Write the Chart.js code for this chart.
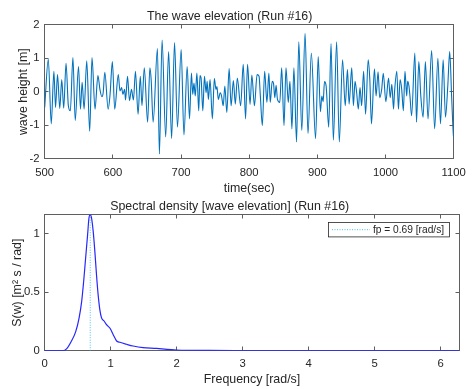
<!DOCTYPE html>
<html>
<head>
<meta charset="utf-8">
<script src="https://cdn.jsdelivr.net/npm/chart.js@4.4.1/dist/chart.umd.min.js"></script>
<style>
  html, body { margin: 0; padding: 0; background: #fff; }
  #wrap { position: relative; width: 473px; height: 389px; overflow: hidden; }
  canvas { position: absolute; left: 0; }
  #waveCanvas { top: 0; }
  #specCanvas { top: 190px; }
</style>
</head>
<body>
<div id="wrap">
  <canvas id="waveCanvas" width="473" height="205"></canvas>
  <canvas id="specCanvas" width="473" height="199"></canvas>
</div>
<script>
// ---- Wave elevation record, Run #16 (time in s, elevation in m) ----
const timeSec = [
  500.0, 505.3, 509.6, 513.5, 515.9, 518.8, 522.1, 525.0, 527.9, 531.3, 534.7, 537.6, 541.4, 544.8,
  549.6, 552.5, 554.9, 557.8, 561.7, 566.0, 569.4, 573.8, 578.1, 581.0, 583.9, 585.8, 588.2, 593.1,
  595.9, 599.3, 602.7, 608.0, 610.4, 612.8, 614.8, 617.2, 618.6, 621.5, 624.4, 627.3, 630.2, 633.1,
  637.0, 640.3, 642.7, 646.1, 651.0, 654.3, 656.2, 659.1, 665.4, 668.3, 672.2, 677.5, 681.8, 686.2,
  690.5, 694.8,
  700.2, 704.3, 709.0, 712.5, 715.3, 717.2, 719.0, 720.9, 723.3, 726.0, 727.8, 729.4, 732.0, 734.4,
  736.8, 738.3, 740.2, 742.6, 746.0, 748.9, 751.3, 752.7, 754.7, 757.5, 759.5, 761.9, 764.3, 767.2,
  770.6, 773.5, 776.8, 779.7, 782.6, 787.5, 791.3, 794.7, 797.6, 801.3,
  803.9, 807.7, 811.6, 814.5, 816.4, 819.3, 822.7, 826.0, 828.9, 830.9, 833.8, 835.7, 837.6, 839.5,
  841.5, 844.9, 847.7, 851.1, 854.0, 857.4, 859.8, 862.7, 865.6, 869.5, 872.8, 877.2, 882.0, 886.3,
  891.2, 897.4, 901.3,
  904.5, 906.6, 908.5, 910.5, 912.9, 916.7, 920.1, 923.5, 928.3, 932.2, 937.0, 940.9, 944.2, 946.6,
  950.5, 952.9, 955.3, 957.7, 960.1, 962.6, 965.0, 967.9, 970.8, 974.6, 977.0, 979.4, 983.8, 986.2,
  989.1, 991.5, 994.4, 996.8, 1000.5,
  1004.5, 1006.9, 1009.3, 1011.8, 1013.2, 1016.6, 1019.0, 1021.4, 1023.8, 1026.2, 1028.6, 1031.1,
  1032.5, 1034.4, 1035.9, 1038.3, 1043.1, 1045.5, 1048.9, 1051.8, 1055.2, 1058.5, 1062.4, 1067.7,
  1072.1, 1076.9, 1080.7, 1084.6, 1088.0, 1091.4, 1094.2, 1097.1, 1099.6, 1100.0
];
const elevation = [
  -0.47, 0.97, -0.96, 0.61, -0.47, 0.51, -0.50, 0.36, -0.49, 0.85, -0.42, -0.57, 1.02, -0.86,
  0.75, -0.52, 0.28, -0.52, 0.92, -1.18, 1.02, -0.52, 0.48, 0.07, -0.15, -0.03, 0.58, -0.52,
  -0.08, 0.90, -0.52, 0.51, 0.02, 0.12, -0.08, 0.07, -0.25, 0.46, -0.27, 0.07, -0.25, 0.61,
  -0.67, 0.46, -0.42, 0.71, -0.91, 0.71, 0.36, -0.91, 1.29, -1.86, 1.54, -1.35, 1.20, -1.40,
  1.47, -1.06,
  1.26, -1.29, 0.75, -0.81, 0.56, -0.08, 0.26, -0.13, 0.56, -0.57, 0.48, 0.41, -0.57, 0.46,
  -0.03, 0.31, -0.23, 0.36, -0.81, 0.39, 0.07, 0.15, -0.23, -0.03, -0.13, -0.42, 0.17, -0.62,
  0.69, -0.42, 0.33, -0.37, 0.41, -0.42, 0.82, -0.81, 0.82, -0.38,
  0.50, -0.42, 0.51, 0.46, -0.13, -1.01, 0.61, -0.32, 0.56, -0.32, 0.31, 0.25, -0.18, 0.19,
  -0.23, -0.32, 0.71, -1.01, 0.71, -0.32, 0.31, -1.11, 0.71, -1.50, 1.49, -1.16, 1.74, -1.25,
  1.15, -1.40, 1.05,
  -0.60, -0.13, -0.30, 0.30, 0.17, -1.06, 1.44, -1.45, 1.49, -1.50, 0.95, -0.42, 0.66, -0.37,
  0.71, -0.42, 0.31, -0.03, -0.52, 0.12, -0.42, 0.61, -0.67, 0.95, 0.36, -0.96, 0.68, -0.13,
  0.59, -0.18, 0.07, 0.55, -0.30,
  0.41, -0.18, 0.22, -0.52, -0.03, 0.61, -0.52, 0.36, 0.07, -0.57, 0.61, -0.13,
  0.31, 0.17, -0.13, -0.72, 1.15, -0.91, 0.90, -0.13, -0.76, 0.90, -0.81, 1.23,
  -1.11, 1.00, -0.96, 0.95, -0.76, 0.17, 1.20, -0.18, -1.30, -1.36
];
const timeTicks = [500, 600, 700, 800, 900, 1000, 1100];
const heightTicks = [-2, -1, 0, 1, 2];

// ---- Spectral density of the same record ----
const freqRad = [
  0, 0.28, 0.33, 0.40, 0.47, 0.52, 0.56, 0.59, 0.62, 0.65, 0.67, 0.69, 0.71, 0.735, 0.76, 0.785,
  0.81, 0.836, 0.86, 0.90, 0.94, 0.99, 1.04, 1.09, 1.14, 1.24, 1.34, 1.49, 1.70, 1.85, 2.0, 2.5,
  3.0, 4.0, 5.0, 6.2832
];
const sDensity = [
  0, 0, 0.015, 0.077, 0.163, 0.277, 0.42, 0.59, 0.79, 0.99, 1.13, 1.163, 1.134, 1.02, 0.849, 0.649,
  0.477, 0.349, 0.283, 0.254, 0.22, 0.192, 0.135, 0.083, 0.072, 0.055, 0.04, 0.026, 0.02, 0.011, 0.006, 0.002,
  0.001, 0, 0, 0
];
const freqTicks = [0, 1, 2, 3, 4, 5, 6];
const densityTicks = [0, 0.5, 1];
const peakFreq = 0.69;

const FONT = '"Liberation Sans", Arial, Helvetica, sans-serif';
const TEXT = '#262626';
const AXIS = '#5f5f5f';
Chart.defaults.font.family = FONT;
Chart.defaults.color = TEXT;

// Boxed axes with inward tick marks on all four sides
const boxedAxes = {
  id: 'boxedAxes',
  beforeDatasetsDraw(chart) {
    const { ctx, chartArea: a, scales } = chart;
    const c = v => Math.floor(v) + 0.5;
    const L = c(a.left), R = c(a.right), T = c(a.top), B = c(a.bottom);
    const len = 4;
    ctx.save();
    ctx.strokeStyle = AXIS;
    ctx.lineWidth = 1;
    ctx.strokeRect(L, T, R - L, B - T);
    ctx.beginPath();
    scales.x.ticks.forEach(t => {
      const x = c(scales.x.getPixelForValue(t.value));
      ctx.moveTo(x, B); ctx.lineTo(x, B - len);
      ctx.moveTo(x, T); ctx.lineTo(x, T + len);
    });
    scales.y.ticks.forEach(t => {
      const y = c(scales.y.getPixelForValue(t.value));
      ctx.moveTo(L, y); ctx.lineTo(L + len, y);
      ctx.moveTo(R, y); ctx.lineTo(R - len, y);
    });
    ctx.stroke();
    ctx.restore();
  }
};

// Boxed legend in the upper right corner of the plot area
const boxedLegend = {
  id: 'boxedLegend',
  afterDatasetsDraw(chart) {
    const ds = chart.data.datasets.find(d => d.inLegend);
    if (!ds) return;
    const { ctx, chartArea: a } = chart;
    const w = 121, h = 14.4;
    const x0 = Math.floor(a.right - 10 - w) + 0.5, y0 = Math.floor(a.top + 8.3) + 0.5;
    ctx.save();
    ctx.fillStyle = '#fff';
    ctx.fillRect(x0, y0, w, h);
    ctx.strokeStyle = TEXT;
    ctx.lineWidth = 0.8;
    ctx.strokeRect(x0, y0, w, h);
    ctx.beginPath();
    ctx.setLineDash(ds.borderDash);
    ctx.strokeStyle = ds.borderColor;
    ctx.lineWidth = ds.borderWidth;
    ctx.moveTo(x0 + 3.5, y0 + h / 2);
    ctx.lineTo(x0 + 41.5, y0 + h / 2);
    ctx.stroke();
    ctx.setLineDash([]);
    ctx.fillStyle = TEXT;
    ctx.font = '10.2px ' + FONT;
    ctx.textBaseline = 'middle';
    ctx.textAlign = 'left';
    ctx.fillText(ds.label, x0 + 44.5, y0 + h / 2 + 0.5);
    ctx.restore();
  }
};

const tickFont = { size: 11.3 };
const labelFont = { size: 12.4 };

function fixedTicks(values) {
  return function (scale) {
    scale.ticks = values.map(v => ({ value: v }));
  };
}

// ---- Top: wave elevation time series ----
new Chart(document.getElementById('waveCanvas'), {
  type: 'line',
  data: {
    datasets: [{
      data: timeSec.map((t, i) => ({ x: t, y: elevation[i] })),
      borderColor: '#0072BD',
      borderWidth: 1.1,
      pointRadius: 0,
      cubicInterpolationMode: 'monotone',
      fill: false
    }]
  },
  plugins: [boxedAxes],
  options: {
    responsive: false,
    animation: false,
    events: [],
    layout: { padding: { left: 0, right: 13.7, top: 0, bottom: 0 } },
    plugins: {
      legend: { display: false },
      tooltip: { enabled: false },
      title: {
        display: true,
        text: 'The wave elevation (Run #16)',
        font: { size: 12.4, weight: 'normal' },
        color: TEXT,
        padding: { top: 8.8, bottom: 1.0 }
      }
    },
    scales: {
      x: {
        type: 'linear',
        min: timeTicks[0],
        max: timeTicks[timeTicks.length - 1],
        afterBuildTicks: fixedTicks(timeTicks),
        afterFit: s => { s.height = 205 - 158.7; },
        grid: { display: false, drawTicks: false },
        border: { display: false },
        ticks: { font: tickFont, padding: 7.2, maxRotation: 0, autoSkip: false, callback: v => String(v) },
        title: { display: true, text: 'time(sec)', font: labelFont, padding: { top: 0, bottom: 9.0 } }
      },
      y: {
        type: 'linear',
        min: heightTicks[0],
        max: heightTicks[heightTicks.length - 1],
        afterBuildTicks: fixedTicks(heightTicks),
        afterFit: s => { s.width = 44.7; },
        grid: { display: false, drawTicks: false },
        border: { display: false },
        ticks: { font: tickFont, padding: 5.2, callback: v => String(v) },
        title: { display: true, text: 'wave height [m]', font: labelFont, padding: { top: 16.0, bottom: 0 } }
      }
    }
  }
});

// ---- Bottom: spectral density ----
const sMax = Math.max(...sDensity);
new Chart(document.getElementById('specCanvas'), {
  type: 'line',
  data: {
    datasets: [
      {
        data: freqRad.map((f, i) => ({ x: f, y: sDensity[i] })),
        borderColor: '#2626ff',
        borderWidth: 1.2,
        pointRadius: 0,
        cubicInterpolationMode: 'monotone',
        fill: false
      },
      {
        label: 'fp = ' + peakFreq.toFixed(2) + ' [rad/s]',
        inLegend: true,
        data: [{ x: peakFreq, y: 0 }, { x: peakFreq, y: sMax }],
        borderColor: '#4DBEEE',
        borderWidth: 1,
        borderDash: [1, 1.5],
        pointRadius: 0,
        fill: false
      }
    ]
  },
  plugins: [boxedAxes, boxedLegend],
  options: {
    responsive: false,
    animation: false,
    events: [],
    layout: { padding: { left: 0, right: 13.7, top: 0, bottom: 0 } },
    plugins: {
      legend: { display: false },
      tooltip: { enabled: false },
      title: {
        display: true,
        text: 'Spectral density [wave elevation] (Run #16)',
        font: { size: 12.4, weight: 'normal' },
        color: TEXT,
        padding: { top: 9.0, bottom: 0.8 }
      }
    },
    scales: {
      x: {
        type: 'linear',
        min: 0,
        max: 2 * Math.PI,
        afterBuildTicks: fixedTicks(freqTicks),
        afterFit: s => { s.height = 199 - 160.7; },
        grid: { display: false, drawTicks: false },
        border: { display: false },
        ticks: { font: tickFont, padding: 6.2, maxRotation: 0, autoSkip: false, callback: v => String(v) },
        title: { display: true, text: 'Frequency [rad/s]', font: labelFont, padding: { top: 0, bottom: 2.1 } }
      },
      y: {
        type: 'linear',
        min: 0,
        max: sMax,
        afterBuildTicks: fixedTicks(densityTicks),
        afterFit: s => { s.width = 44.7; },
        grid: { display: false, drawTicks: false },
        border: { display: false },
        ticks: { font: tickFont, padding: 5.0, callback: v => String(v) },
        title: { display: true, text: 'S(w) [m² s / rad]', font: labelFont, padding: { top: 10.0, bottom: 0 } }
      }
    }
  }
});
</script>
</body>
</html>
